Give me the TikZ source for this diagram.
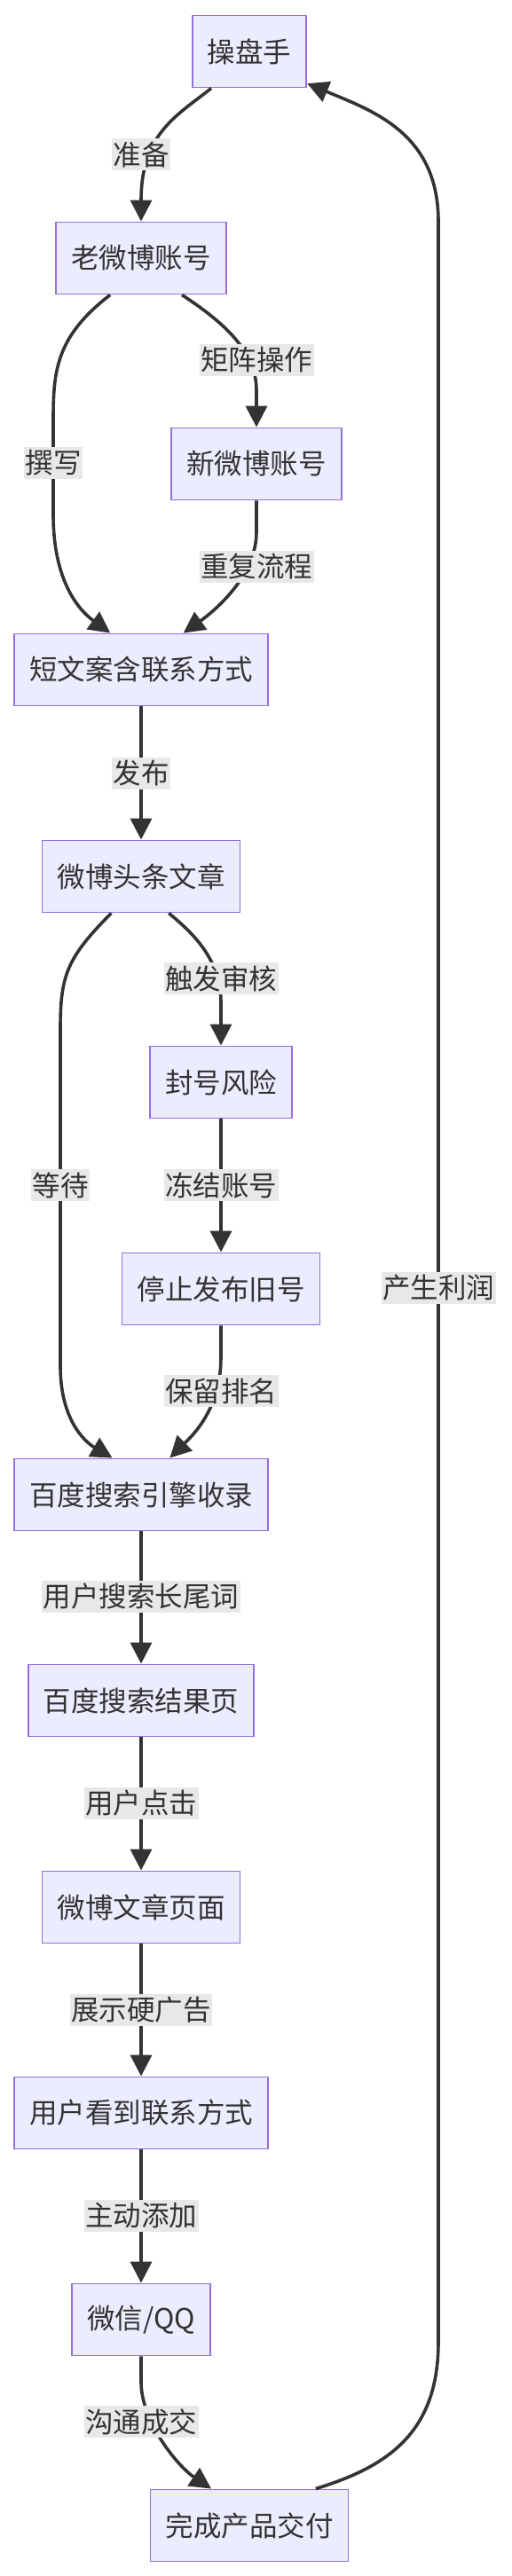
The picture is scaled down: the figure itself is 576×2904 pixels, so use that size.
\documentclass[tikz,border=0pt]{standalone}
\usepackage{fontspec}
\setmainfont{Noto Sans CJK SC}
\usetikzlibrary{arrows.meta}

\definecolor{boxfill}{HTML}{ECECFF}
\definecolor{boxline}{HTML}{9370DB}
\definecolor{lblfill}{HTML}{E8E8E8}
\definecolor{ink}{HTML}{333333}

\tikzset{
  stepbox/.style={draw=boxline, fill=boxfill, line width=1.9pt, text=ink,
    font=\fontsize{31.5}{36}\selectfont, inner xsep=17pt, inner ysep=0pt, minimum height=81pt},
  lbl/.style={fill=lblfill, text=ink, font=\fontsize{31.5}{36}\selectfont,
    inner xsep=1.5pt, inner ysep=0pt, minimum height=36pt},
  flow/.style={draw=ink, line width=3.6pt, -{Triangle[length=24pt,width=24pt]}},
}

\begin{document}
\begin{tikzpicture}[x=1pt, y=-1pt]
    \fill[white] (0,0) rectangle (576,2904);
    \useasboundingbox (0,0) rectangle (576,2904);

    % 账号准备
    \node[stepbox] (czs) at (281,58) {操盘手};
    \node[stepbox] (old) at (159,291) {老微博账号};
    \node[stepbox] (new) at (289,523) {新微博账号};
    \node[stepbox] (short) at (159,755) {短文案含联系方式};

    % 发布与审核
    \node[stepbox] (wbart) at (159,988) {微博头条文章};
    \node[stepbox] (ban) at (249,1220) {封号风险};
    \node[stepbox] (stop) at (249,1453) {停止发布旧号};

    % 搜索引流
    \node[stepbox] (baidu) at (159,1685) {百度搜索引擎收录};
    \node[stepbox] (result) at (159,1917) {百度搜索结果页};
    \node[stepbox] (page) at (159,2150) {微博文章页面};
    \node[stepbox] (see) at (159,2382) {用户看到联系方式};
    \node[stepbox] (wx) at (159,2615) {微信/QQ};
    \node[stepbox] (done) at (281,2847) {完成产品交付};

    % 连线
    \draw[flow] (czs.224) .. controls (200,130) and (159,150) .. (old.north);
    \draw[flow] (old.230) .. controls (62,380) and (60,420) .. (60,475) -- (60,580)
        .. controls (60,650) and (85,685) .. (short.130);
    \draw[flow] (old.318) .. controls (250,362) and (289,395) .. (289,440) -- (new.north);
    \draw[flow] (new.south) -- (289,600) .. controls (289,650) and (240,690) .. (short.41);
    \draw[flow] (short.south) -- (wbart.north);
    \draw[flow] (wbart.307) .. controls (215,1050) and (249,1080) .. (249,1130) -- (ban.north);
    \draw[flow] (wbart.231) .. controls (75,1080) and (68,1100) .. (68,1160) -- (68,1540)
        .. controls (68,1600) and (95,1625) .. (baidu.128);
    \draw[flow] (ban.south) -- (stop.north);
    \draw[flow] (stop.south) -- (249,1530) .. controls (249,1590) and (215,1620) .. (baidu.52);
    \draw[flow] (baidu.south) -- (result.north);
    \draw[flow] (result.south) -- (page.north);
    \draw[flow] (page.south) -- (see.north);
    \draw[flow] (see.south) -- (wx.north);
    \draw[flow] (wx.south) -- (159,2685) .. controls (159,2730) and (200,2780) .. (done.136);
    \draw[flow] (done.29) .. controls (440,2780) and (494,2740) .. (494,2640) -- (494,250)
        .. controls (494,150) and (420,125) .. (czs.331);

    % 连线标签
    \node[lbl] (l-prep) at (159,174) {准备};
    \node[lbl] (l-write) at (60,522) {撰写};
    \node[lbl] (l-matrix) at (289,406) {矩阵操作};
    \node[lbl] (l-repeat) at (289,639) {重复流程};
    \node[lbl] (l-post) at (159,872) {发布};
    \node[lbl] (l-audit) at (249,1103) {触发审核};
    \node[lbl] (l-wait) at (68,1336) {等待};
    \node[lbl] (l-freeze) at (249,1336) {冻结账号};
    \node[lbl] (l-keep) at (249,1568) {保留排名};
    \node[lbl] (l-search) at (159,1800) {用户搜索长尾词};
    \node[lbl] (l-click) at (159,2033) {用户点击};
    \node[lbl] (l-ad) at (159,2266) {展示硬广告};
    \node[lbl] (l-add) at (159,2498) {主动添加};
    \node[lbl] (l-deal) at (159,2730) {沟通成交};
    \node[lbl] (l-profit) at (494,1452) {产生利润};
\end{tikzpicture}
\end{document}
